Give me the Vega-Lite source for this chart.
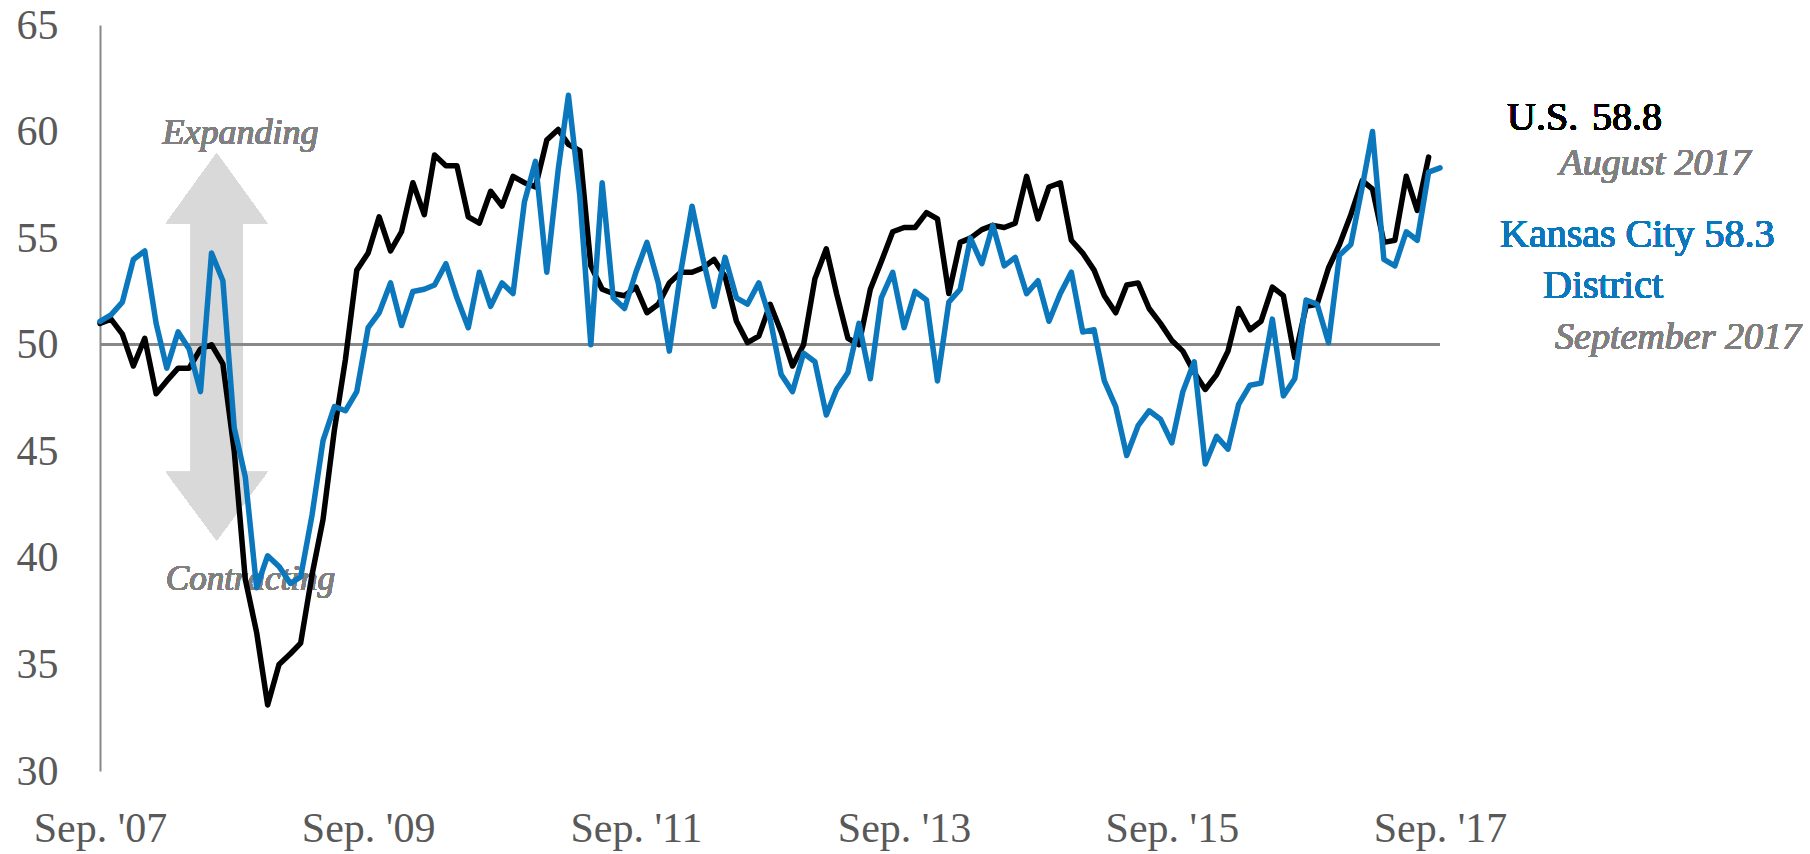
{
  "$schema": "https://vega.github.io/schema/vega-lite/v6.json",
  "width": 1340,
  "height": 746,
  "autosize": {"type": "none"},
  "padding": {"left": 100, "top": 25, "right": 370, "bottom": 83},
  "background": "white",
  "config": {
    "view": {"stroke": null},
    "font": "Times New Roman, Liberation Serif, serif",
    "axis": {"title": null, "grid": false, "ticks": false, "tickSize": 0, "labelFont": "Times New Roman, Liberation Serif, serif", "labelFontSize": 42, "labelColor": "#595959", "labelOverlap": false, "labelBound": false, "labelFlush": false},
    "axisX": {"domain": false, "labelPadding": 37},
    "axisY": {"domain": true, "domainColor": "#888888", "domainWidth": 2, "labelPadding": 42},
    "text": {"font": "Times New Roman, Liberation Serif, serif"}
  },
  "data": {"values": [
    {"date": "2007/09/01", "us": 51.0, "kc": 51.1},
    {"date": "2007/10/01", "us": 51.2, "kc": 51.4},
    {"date": "2007/11/01", "us": 50.5, "kc": 52.0},
    {"date": "2007/12/01", "us": 49.0, "kc": 54.0},
    {"date": "2008/01/01", "us": 50.3, "kc": 54.4},
    {"date": "2008/02/01", "us": 47.7, "kc": 51.0},
    {"date": "2008/03/01", "us": 48.3, "kc": 48.9},
    {"date": "2008/04/01", "us": 48.9, "kc": 50.6},
    {"date": "2008/05/01", "us": 48.9, "kc": 49.8},
    {"date": "2008/06/01", "us": 49.8, "kc": 47.8},
    {"date": "2008/07/01", "us": 50.0, "kc": 54.3},
    {"date": "2008/08/01", "us": 49.1, "kc": 53.0},
    {"date": "2008/09/01", "us": 45.0, "kc": 46.1},
    {"date": "2008/10/01", "us": 39.0, "kc": 43.8},
    {"date": "2008/11/01", "us": 36.5, "kc": 38.6},
    {"date": "2008/12/01", "us": 33.1, "kc": 40.1},
    {"date": "2009/01/01", "us": 35.0, "kc": 39.6},
    {"date": "2009/02/01", "us": 35.5, "kc": 38.8},
    {"date": "2009/03/01", "us": 36.0, "kc": 39.1},
    {"date": "2009/04/01", "us": 39.2, "kc": 42.0},
    {"date": "2009/05/01", "us": 41.8, "kc": 45.5},
    {"date": "2009/06/01", "us": 46.0, "kc": 47.1},
    {"date": "2009/07/01", "us": 49.3, "kc": 46.9},
    {"date": "2009/08/01", "us": 53.5, "kc": 47.8},
    {"date": "2009/09/01", "us": 54.3, "kc": 50.8},
    {"date": "2009/10/01", "us": 56.0, "kc": 51.5},
    {"date": "2009/11/01", "us": 54.4, "kc": 52.9},
    {"date": "2009/12/01", "us": 55.3, "kc": 50.9},
    {"date": "2010/01/01", "us": 57.6, "kc": 52.5},
    {"date": "2010/02/01", "us": 56.1, "kc": 52.6},
    {"date": "2010/03/01", "us": 58.9, "kc": 52.8},
    {"date": "2010/04/01", "us": 58.4, "kc": 53.8},
    {"date": "2010/05/01", "us": 58.4, "kc": 52.2},
    {"date": "2010/06/01", "us": 56.0, "kc": 50.8},
    {"date": "2010/07/01", "us": 55.7, "kc": 53.4},
    {"date": "2010/08/01", "us": 57.2, "kc": 51.8},
    {"date": "2010/09/01", "us": 56.5, "kc": 52.9},
    {"date": "2010/10/01", "us": 57.9, "kc": 52.4},
    {"date": "2010/11/01", "us": 57.6, "kc": 56.7},
    {"date": "2010/12/01", "us": 57.4, "kc": 58.6},
    {"date": "2011/01/01", "us": 59.6, "kc": 53.4},
    {"date": "2011/02/01", "us": 60.1, "kc": 58.2},
    {"date": "2011/03/01", "us": 59.4, "kc": 61.7},
    {"date": "2011/04/01", "us": 59.1, "kc": 57.0},
    {"date": "2011/05/01", "us": 53.7, "kc": 50.0},
    {"date": "2011/06/01", "us": 52.6, "kc": 57.6},
    {"date": "2011/07/01", "us": 52.4, "kc": 52.2},
    {"date": "2011/08/01", "us": 52.3, "kc": 51.7},
    {"date": "2011/09/01", "us": 52.7, "kc": 53.4},
    {"date": "2011/10/01", "us": 51.5, "kc": 54.8},
    {"date": "2011/11/01", "us": 51.9, "kc": 52.9},
    {"date": "2011/12/01", "us": 52.9, "kc": 49.7},
    {"date": "2012/01/01", "us": 53.4, "kc": 53.4},
    {"date": "2012/02/01", "us": 53.4, "kc": 56.5},
    {"date": "2012/03/01", "us": 53.6, "kc": 54.1},
    {"date": "2012/04/01", "us": 54.0, "kc": 51.8},
    {"date": "2012/05/01", "us": 53.2, "kc": 54.1},
    {"date": "2012/06/01", "us": 51.1, "kc": 52.2},
    {"date": "2012/07/01", "us": 50.1, "kc": 51.9},
    {"date": "2012/08/01", "us": 50.4, "kc": 52.9},
    {"date": "2012/09/01", "us": 51.9, "kc": 51.2},
    {"date": "2012/10/01", "us": 50.6, "kc": 48.6},
    {"date": "2012/11/01", "us": 49.0, "kc": 47.8},
    {"date": "2012/12/01", "us": 50.0, "kc": 49.6},
    {"date": "2013/01/01", "us": 53.1, "kc": 49.2},
    {"date": "2013/02/01", "us": 54.5, "kc": 46.7},
    {"date": "2013/03/01", "us": 52.4, "kc": 47.9},
    {"date": "2013/04/01", "us": 50.3, "kc": 48.7},
    {"date": "2013/05/01", "us": 50.0, "kc": 51.0},
    {"date": "2013/06/01", "us": 52.6, "kc": 48.4},
    {"date": "2013/07/01", "us": 53.9, "kc": 52.2},
    {"date": "2013/08/01", "us": 55.3, "kc": 53.4},
    {"date": "2013/09/01", "us": 55.5, "kc": 50.8},
    {"date": "2013/10/01", "us": 55.5, "kc": 52.5},
    {"date": "2013/11/01", "us": 56.2, "kc": 52.1},
    {"date": "2013/12/01", "us": 55.9, "kc": 48.3},
    {"date": "2014/01/01", "us": 52.4, "kc": 52.0},
    {"date": "2014/02/01", "us": 54.8, "kc": 52.6},
    {"date": "2014/03/01", "us": 55.0, "kc": 55.0},
    {"date": "2014/04/01", "us": 55.4, "kc": 53.8},
    {"date": "2014/05/01", "us": 55.6, "kc": 55.6},
    {"date": "2014/06/01", "us": 55.5, "kc": 53.7},
    {"date": "2014/07/01", "us": 55.7, "kc": 54.1},
    {"date": "2014/08/01", "us": 57.9, "kc": 52.4},
    {"date": "2014/09/01", "us": 55.9, "kc": 53.0},
    {"date": "2014/10/01", "us": 57.4, "kc": 51.1},
    {"date": "2014/11/01", "us": 57.6, "kc": 52.4},
    {"date": "2014/12/01", "us": 54.9, "kc": 53.4},
    {"date": "2015/01/01", "us": 54.3, "kc": 50.6},
    {"date": "2015/02/01", "us": 53.5, "kc": 50.7},
    {"date": "2015/03/01", "us": 52.3, "kc": 48.3},
    {"date": "2015/04/01", "us": 51.5, "kc": 47.1},
    {"date": "2015/05/01", "us": 52.8, "kc": 44.8},
    {"date": "2015/06/01", "us": 52.9, "kc": 46.2},
    {"date": "2015/07/01", "us": 51.7, "kc": 46.9},
    {"date": "2015/08/01", "us": 51.0, "kc": 46.5},
    {"date": "2015/09/01", "us": 50.2, "kc": 45.4},
    {"date": "2015/10/01", "us": 49.7, "kc": 47.8},
    {"date": "2015/11/01", "us": 48.7, "kc": 49.2},
    {"date": "2015/12/01", "us": 47.9, "kc": 44.4},
    {"date": "2016/01/01", "us": 48.6, "kc": 45.7},
    {"date": "2016/02/01", "us": 49.7, "kc": 45.1},
    {"date": "2016/03/01", "us": 51.7, "kc": 47.2},
    {"date": "2016/04/01", "us": 50.7, "kc": 48.1},
    {"date": "2016/05/01", "us": 51.1, "kc": 48.2},
    {"date": "2016/06/01", "us": 52.7, "kc": 51.2},
    {"date": "2016/07/01", "us": 52.3, "kc": 47.6},
    {"date": "2016/08/01", "us": 49.4, "kc": 48.4},
    {"date": "2016/09/01", "us": 51.8, "kc": 52.1},
    {"date": "2016/10/01", "us": 51.9, "kc": 51.9},
    {"date": "2016/11/01", "us": 53.6, "kc": 50.1},
    {"date": "2016/12/01", "us": 54.7, "kc": 54.2},
    {"date": "2017/01/01", "us": 56.1, "kc": 54.7},
    {"date": "2017/02/01", "us": 57.7, "kc": 57.4},
    {"date": "2017/03/01", "us": 57.3, "kc": 60.0},
    {"date": "2017/04/01", "us": 54.8, "kc": 54.0},
    {"date": "2017/05/01", "us": 54.9, "kc": 53.7},
    {"date": "2017/06/01", "us": 57.9, "kc": 55.3},
    {"date": "2017/07/01", "us": 56.3, "kc": 54.9},
    {"date": "2017/08/01", "us": 58.8, "kc": 58.1},
    {"date": "2017/09/01", "us": null, "kc": 58.3}
  ]},
  "encoding": {
    "x": {"field": "date", "type": "temporal",
          "scale": {"domain": [{"year": 2007, "month": 9, "date": 1}, {"year": 2017, "month": 9, "date": 1}]},
          "axis": {"values": [{"year": 2007, "month": 9, "date": 1}, {"year": 2009, "month": 9, "date": 1}, {"year": 2011, "month": 9, "date": 1}, {"year": 2013, "month": 9, "date": 1}, {"year": 2015, "month": 9, "date": 1}, {"year": 2017, "month": 9, "date": 1}],
                   "format": "%b. '%y"}}
  },
  "layer": [
    {
      "mark": {"type": "point", "shape": "M0,-1L0.262,-0.637L0.133,-0.637L0.133,0.645L0.262,0.645L0,1L-0.262,0.645L-0.133,0.645L-0.133,-0.637L-0.262,-0.637Z", "size": 149769, "filled": true, "color": "#D9D9D9", "opacity": 1, "strokeWidth": 0},
      "encoding": {
        "x": {"datum": {"year": 2008, "month": 7, "date": 15}, "type": "temporal"},
        "y": {"datum": 49.9, "type": "quantitative"}
      }
    },
    {
      "mark": {"type": "rule", "color": "#888888", "strokeWidth": 2},
      "encoding": {"x": null, "y": {"datum": 50, "type": "quantitative"}}
    },
    {
      "mark": {"type": "text", "text": "Expanding", "fontStyle": "italic", "fontSize": 36, "color": "#808080", "align": "center", "baseline": "alphabetic"},
      "encoding": {
        "x": {"datum": {"year": 2008, "month": 9, "date": 18}, "type": "temporal"},
        "y": {"datum": 59.4, "type": "quantitative"}
      }
    },
    {
      "mark": {"type": "text", "text": "Contracting", "fontStyle": "italic", "fontSize": 35, "color": "#808080", "align": "center", "baseline": "alphabetic"},
      "encoding": {
        "x": {"datum": {"year": 2008, "month": 10, "date": 15}, "type": "temporal"},
        "y": {"datum": 38.5, "type": "quantitative"}
      }
    },
    {
      "mark": {"type": "line", "color": "#000000", "strokeWidth": 5.5, "strokeJoin": "round", "strokeCap": "round"},
      "encoding": {
        "y": {"field": "us", "type": "quantitative",
              "scale": {"domain": [30, 65], "nice": false, "zero": false},
              "axis": {"values": [30, 35, 40, 45, 50, 55, 60, 65]}}
      }
    },
    {
      "mark": {"type": "line", "color": "#0B77BD", "strokeWidth": 5.5, "strokeJoin": "round", "strokeCap": "round"},
      "encoding": {
        "y": {"field": "kc", "type": "quantitative"}
      }
    },
    {
      "mark": {"type": "text", "text": "U.S.", "fontSize": 40, "color": "#000000", "align": "left", "baseline": "alphabetic", "dx": 67},
      "encoding": {
        "x": {"datum": {"year": 2017, "month": 9, "date": 1}, "type": "temporal"},
        "y": {"datum": 60.07, "type": "quantitative"}
      }
    },
    {
      "mark": {"type": "text", "text": "58.8", "fontSize": 40, "color": "#000000", "align": "left", "baseline": "alphabetic", "dx": 152},
      "encoding": {
        "x": {"datum": {"year": 2017, "month": 9, "date": 1}, "type": "temporal"},
        "y": {"datum": 60.07, "type": "quantitative"}
      }
    },
    {
      "mark": {"type": "text", "text": "August 2017", "fontStyle": "italic", "fontSize": 38, "color": "#808080", "align": "center", "baseline": "alphabetic", "dx": 215},
      "encoding": {
        "x": {"datum": {"year": 2017, "month": 9, "date": 1}, "type": "temporal"},
        "y": {"datum": 57.96, "type": "quantitative"}
      }
    },
    {
      "mark": {"type": "text", "text": "Kansas City 58.3", "fontSize": 40, "color": "#0B77BD", "align": "left", "baseline": "alphabetic", "dx": 60},
      "encoding": {
        "x": {"datum": {"year": 2017, "month": 9, "date": 1}, "type": "temporal"},
        "y": {"datum": 54.6, "type": "quantitative"}
      }
    },
    {
      "mark": {"type": "text", "text": "District", "fontSize": 40, "color": "#0B77BD", "align": "center", "baseline": "alphabetic", "dx": 163},
      "encoding": {
        "x": {"datum": {"year": 2017, "month": 9, "date": 1}, "type": "temporal"},
        "y": {"datum": 52.18, "type": "quantitative"}
      }
    },
    {
      "mark": {"type": "text", "text": "September 2017", "fontStyle": "italic", "fontSize": 38, "color": "#808080", "align": "center", "baseline": "alphabetic", "dx": 238},
      "encoding": {
        "x": {"datum": {"year": 2017, "month": 9, "date": 1}, "type": "temporal"},
        "y": {"datum": 49.78, "type": "quantitative"}
      }
    }
  ]
}
